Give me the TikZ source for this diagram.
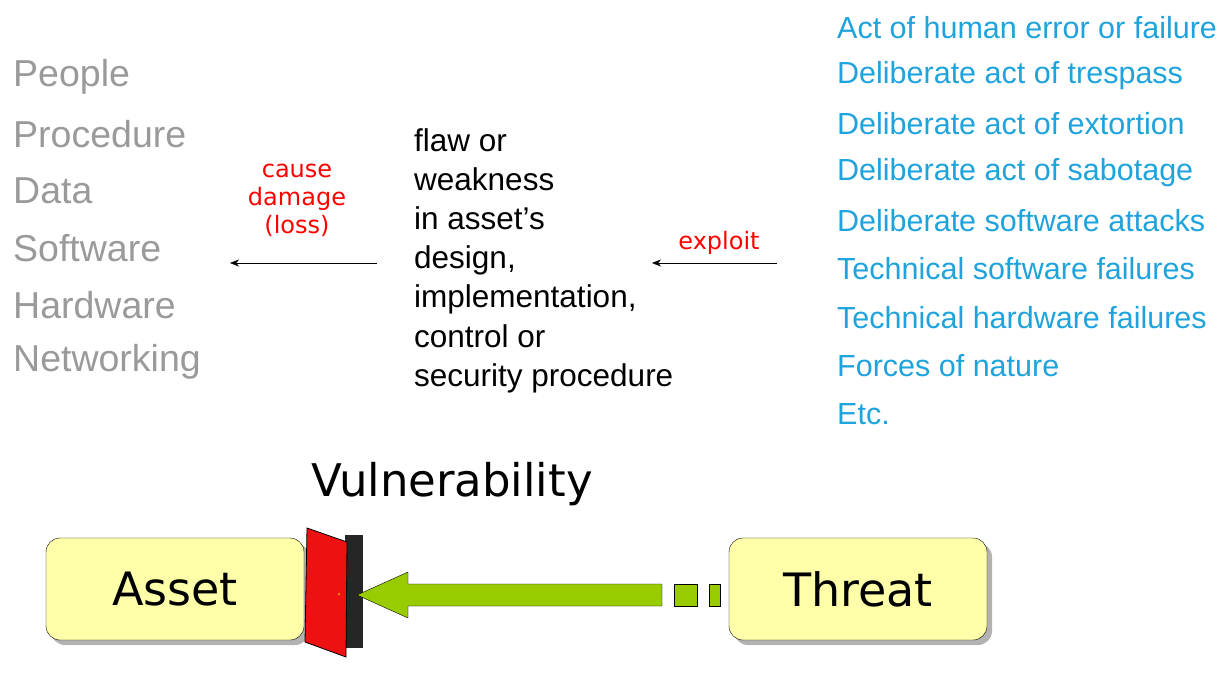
\documentclass[tikz,border=0pt]{standalone}
\usepackage{fontspec}
\setmainfont{Liberation Sans}
\newfontfamily\handfont{DejaVu Sans}
\usetikzlibrary{positioning, arrows.meta}
\definecolor{assetgray}{HTML}{9A9A9A}
\definecolor{threatblue}{HTML}{1FA3DC}
\definecolor{boxyellow}{HTML}{FFFFAA}
\definecolor{arrowgreen}{HTML}{99CC00}
\definecolor{doorred}{HTML}{EE1111}
\begin{document}
\begin{tikzpicture}[x=1pt, y=-1pt, >={Stealth[length=9pt, width=7pt]}]
  \tikzset{asset/.style={anchor=west, text=assetgray, font=\fontsize{37.5}{37.5}\selectfont, inner sep=0pt},
           threat/.style={anchor=west, text=threatblue, font=\fontsize{30.5}{30.5}\selectfont, inner sep=0pt},
           hand/.style={text=red, font=\handfont\fontsize{24}{28}\selectfont, align=center, inner sep=0pt},
           bigbox/.style={draw=black, fill=boxyellow, rounded corners=14pt, minimum width=258pt, minimum height=102pt, font=\handfont\fontsize{46}{46}\selectfont}};
  \useasboundingbox (0,0) rectangle (1232,674);
  % assets
  \foreach \t [count=\i] in {People, Procedure, Data, Software, Hardware, Networking}
    \node[asset] (a\i) at (13, {20+57*\i}) {\t};
  % threats
  \foreach \t [count=\i] in {Act of human error or failure, Deliberate act of trespass,
      Deliberate act of extortion, Deliberate act of sabotage, Deliberate software attacks,
      Technical software failures, Technical hardware failures, Forces of nature, Etc.}
    \node[threat] (t\i) at (837, {-21+48.3*\i}) {\t};
  % vulnerability text
  \node[anchor=north west, align=left, inner sep=0pt, font=\fontsize{31.5}{39.2}\selectfont] (flaw) at (414, 128)
    {flaw or\\weakness\\in asset’s\\design,\\implementation,\\control or\\security procedure};
  \coordinate (lossS) at (377, 263);
  \coordinate (lossE) at (230, 263);
  \draw[->] (lossS) -- (lossE);
  \node[hand] (loss) at (297, 200) {cause\\damage\\(loss)};
  \coordinate (expS) at (777, 263);
  \coordinate (expE) at (652, 263);
  \draw[->] (expS) -- (expE);
  \node[hand] (exploit) at (719, 243) {exploit};
  % bottom diagram
  \node[bigbox, fill=gray!60, draw=none] at (180, 594) {};
  \node[bigbox] (asset) at (175, 589) {Asset};
  \node[bigbox, fill=gray!60, draw=none] at (863, 594) {};
  \node[bigbox] (threat) at (858, 589) {Threat};
  \node[font=\handfont\fontsize{45}{45}\selectfont] (vuln) at (452, 484) {Vulnerability};
  % door
  \fill[black!85] (345,535) rectangle (363,648);
  \draw[fill=doorred, thick] (307,528) -- (347,542) -- (346,657) -- (305,642) -- cycle;
  \fill[orange] (339,594) circle (1.5);
  % green arrow
  \draw[fill=arrowgreen] (357,595) -- (408,572) -- (408,584) -- (662,584) -- (662,606)
    -- (408,606) -- (408,618) -- cycle;
  \draw[fill=arrowgreen] (674,584) rectangle (697,606);
  \draw[fill=arrowgreen] (709,584) rectangle (720,606);
\end{tikzpicture}
\end{document}
